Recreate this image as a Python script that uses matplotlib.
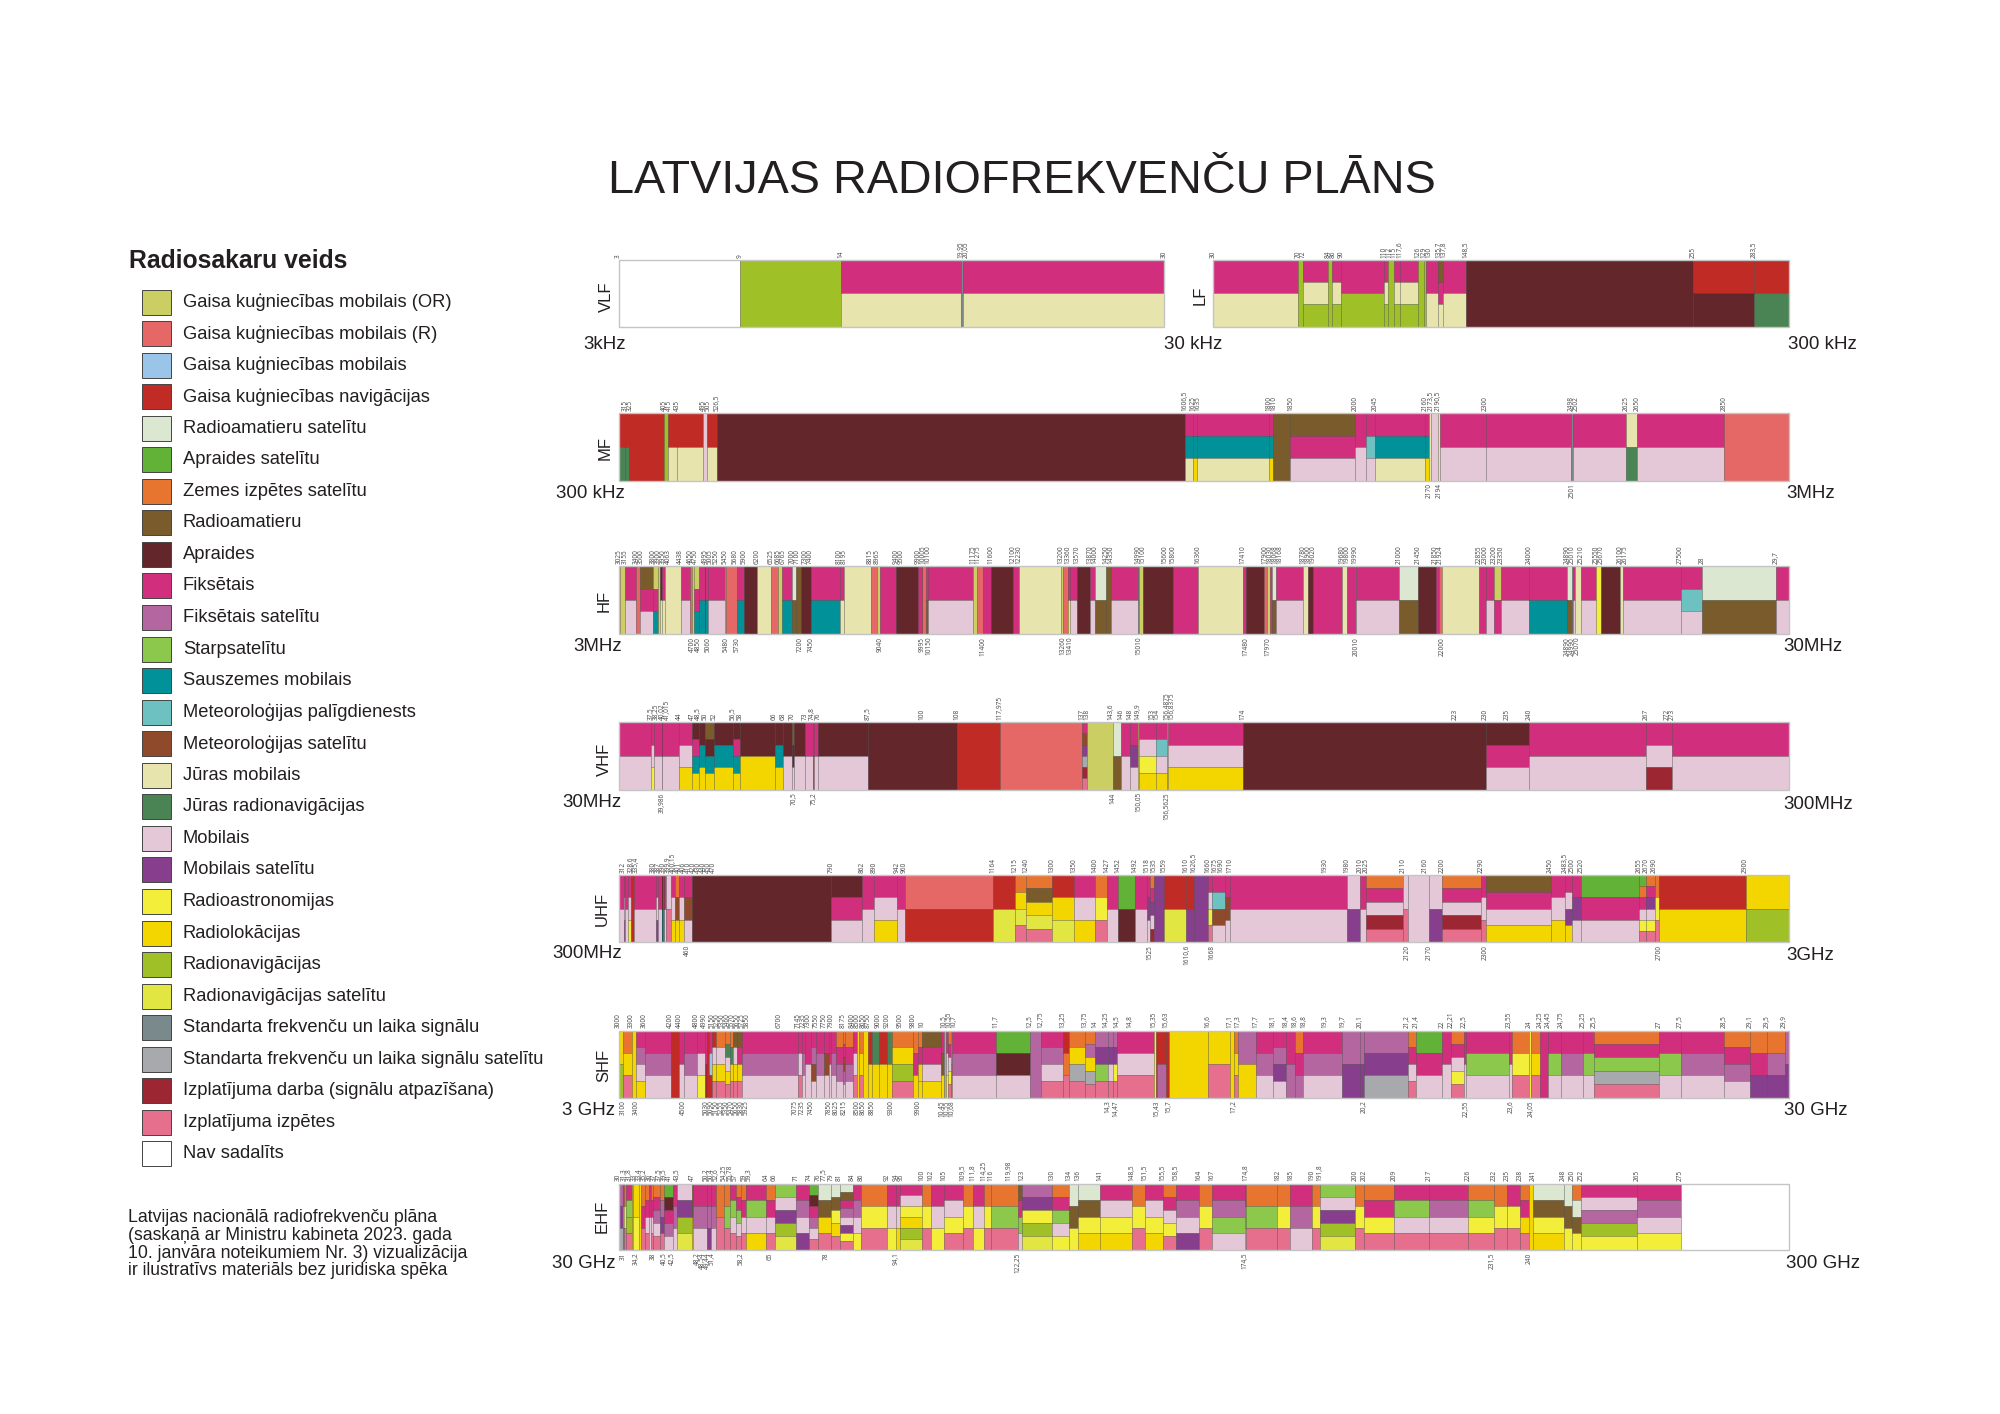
"""Latvian radio frequency allocation chart."""
import matplotlib
matplotlib.use('Agg')
import matplotlib.pyplot as plt
from matplotlib.patches import Rectangle

plt.rcParams['font.family'] = ['Liberation Sans', 'DejaVu Sans']

W, H = 2000, 1414

TITLE = "LATVIJAS RADIOFREKVENČU PLĀNS"
LEGEND_TITLE = "Radiosakaru veids"
NOTE_LINES = [
    "Latvijas nacionālā radiofrekvenču plāna",
    "(saskaņā ar Ministru kabineta 2023. gada",
    "10. janvāra noteikumiem Nr. 3) vizualizācija",
    "ir ilustratīvs materiāls bez juridiska spēka",
]

# service code -> (legend text, colour), legend order
SERVICE_CODES = ["OR", "AR", "AB", "AN", "RS", "BS", "ES", "AT", "BC", "FX", "FS", "IS", "LM", "MA",
                 "MS", "MM", "MN", "MO", "MV", "RA", "RL", "RN", "RV", "ST", "SV", "IZ", "EE", "NA"]
SERVICE_NAMES = [
    "Gaisa kuģniecības mobilais (OR)", "Gaisa kuģniecības mobilais (R)", "Gaisa kuģniecības mobilais",
    "Gaisa kuģniecības navigācijas", "Radioamatieru satelītu", "Apraides satelītu", "Zemes izpētes satelītu",
    "Radioamatieru", "Apraides", "Fiksētais", "Fiksētais satelītu", "Starpsatelītu", "Sauszemes mobilais",
    "Meteoroloģijas palīgdienests", "Meteoroloģijas satelītu", "Jūras mobilais", "Jūras radionavigācijas",
    "Mobilais", "Mobilais satelītu", "Radioastronomijas", "Radiolokācijas", "Radionavigācijas",
    "Radionavigācijas satelītu", "Standarta frekvenču un laika signālu",
    "Standarta frekvenču un laika signālu satelītu", "Izplatījuma darba (signālu atpazīšana)",
    "Izplatījuma izpētes", "Nav sadalīts",
]
SERVICE_COLORS = ["#CBCF63", "#E56866", "#9AC5E8", "#C02B25", "#DCE7D2", "#62B238", "#E8752F", "#7A5B2C",
                  "#62262B", "#D22E7E", "#B3669F", "#8CC84B", "#009199", "#6EC1C1", "#8F4A2B", "#E8E4AE",
                  "#4A8454", "#E4C8D8", "#873F8D", "#F2EE3A", "#F3D600", "#A0C027", "#E2E643", "#7A8A8C",
                  "#A8A9AD", "#9C2632", "#E56F8D", "#FFFFFF"]

# columns: (start frequency, services from top to bottom)
VLF_COLS = [(3, "NA"), (9, "RN"), (14, "FX MM"), (19.95, "ST"), (20.05, "FX MM")]
VLF_TOP = ["3", "9", "14", "19,95", "20,05", "30"]
VLF_BOT = []

LF_COLS = [(30, "FX MM"), (70, "RN"), (72, "FX MM RN"), (84, "RN"), (86, "FX MM RN"), (90, "FX RN"),
           (110, "FX MM RN"), (112, "RN"), (115, "FX MM RN"), (117.6, "FX MM RN"), (126, "RN"),
           (129, "RN"), (130, "FX MM"), (135.7, "AT FX MM"), (137.8, "FX MM"), (148.5, "BC"),
           (255, "AN BC"), (283.5, "AN MN")]
LF_TOP = ["30", "70", "72", "84", "86", "90", "110", "112", "115", "117,6", "126", "129", "130",
          "135,7", "137,8", "148,5", "255", "283,5"]
LF_BOT = []

MF_COLS = [(300, "AN MN"), (315, "AN MN"), (325, "AN"), (405, "RN"), (415, "AN MM"), (435, "AN MM"),
           (495, "MO"), (505, "AN MM"), (526.5, "BC"), (1606.5, "FX LM MM"), (1625, "FX LM RL"),
           (1635, "FX LM MM"), (1800, "FX LM RL"), (1810, "AT"), (1850, "AT FX MO"), (2000, "FX MO"),
           (2025, "FX MA MO"), (2045, "FX LM MM"), (2160, "FX LM RL"), (2170, "MM"), (2173.5, "MO"),
           (2190.5, "MM"), (2194, "FX MO"), (2300, "FX MO"), (2498, "ST"), (2502, "FX MO"),
           (2625, "MM MN"), (2650, "FX MO"), (2850, "AR")]
MF_TOP = ["315", "325", "405", "415", "435", "495", "505", "526,5", "1606,5", "1625", "1635", "1800",
          "1810", "1850", "2000", "2045", "2160", "2173,5", "2190,5", "2300", "2498", "2502", "2625",
          "2650", "2850"]
MF_BOT = ["2170", "2194", "2501"]

HF_COLS = [(3000, "AR"), (3025, "OR"), (3155, "FX MO"), (3400, "AR"), (3500, "AT FX MO"), (3800, "OR FX LM"),
           (3900, "OR"), (3950, "BC MM"), (4000, "FX MM"), (4063, "MM"), (4438, "FX MO"), (4650, "AR"),
           (4700, "OR"), (4750, "OR FX LM"), (4850, "FX LM"), (4995, "ST"), (5005, "FX LM"), (5060, "FX MO"),
           (5450, "OR"), (5480, "AR"), (5730, "FX LM"), (5900, "BC"), (6200, "MM"), (6525, "AR"), (6685, "OR"),
           (6765, "FX LM"), (7000, "RS AT"), (7100, "AT"), (7200, "BC"), (7450, "FX LM"), (8100, "FX MM"),
           (8195, "MM"), (8815, "AR"), (8965, "OR"), (9040, "FX"), (9400, "BC"), (9900, "FX"), (9995, "ST"),
           (10005, "AR"), (10100, "FX AT"), (10150, "FX MO"), (11175, "OR"), (11275, "AR"), (11400, "FX"),
           (11600, "BC"), (12100, "FX"), (12230, "MM"), (13200, "OR"), (13260, "AR"), (13360, "FX RA"),
           (13410, "FX MO"), (13570, "BC"), (13870, "FX MO"), (14000, "RS AT"), (14250, "AT"), (14350, "FX MO"),
           (14990, "ST"), (15010, "OR"), (15100, "BC"), (15800, "FX"), (16360, "MM"), (17410, "FX"),
           (17480, "BC"), (17900, "AR"), (17970, "OR"), (18030, "FX"), (18068, "RS AT"), (18168, "FX MO"),
           (18780, "MM"), (18900, "BC"), (19020, "FX"), (19680, "MM"), (19800, "FX"), (19990, "ST"),
           (20010, "FX MO"), (21000, "RS AT"), (21450, "BC"), (21850, "FX"), (21924, "AR"), (22000, "MM"),
           (22855, "FX"), (23000, "FX MO"), (23200, "OR FX"), (23350, "FX MO"), (24000, "FX LM"),
           (24890, "RS AT"), (24990, "ST"), (25010, "FX MO"), (25070, "MM"), (25210, "FX MO"), (25550, "RA"),
           (25670, "BC"), (26100, "MM"), (26175, "FX MO"), (27500, "FX MA MO"), (28000, "RS AT"),
           (29700, "FX MO")]
HF_TOP = ["3025", "3155", "3400", "3500", "3800", "3900", "3950", "4063", "4438", "4650", "4750", "4995",
          "5005", "5250", "5450", "5680", "5900", "6200", "6525", "6685", "6765", "7000", "7100", "7300",
          "7400", "8100", "8195", "8815", "8965", "9400", "9500", "9900", "10005", "10100", "11175", "11275",
          "11600", "12100", "12230", "13200", "13360", "13570", "13870", "14000", "14250", "14350", "14990",
          "15100", "15600", "15800", "16360", "17410", "17900", "18030", "18068", "18168", "18780", "18900",
          "19020", "19680", "19800", "19990", "21000", "21450", "21850", "21924", "22855", "23000", "23200",
          "23350", "24000", "24890", "25010", "25210", "25550", "25670", "26100", "26175", "27500", "28",
          "29,7"]
HF_BOT = ["4700", "4850", "5060", "5480", "5730", "7200", "7450", "9040", "9995", "10150", "11400", "13260",
          "13410", "15010", "17480", "17970", "20010", "22000", "24890", "24990", "25070"]

VHF_COLS = [(30, "FX MO"), (37.5, "FX MO RA"), (38.25, "FX MO"), (39.986, "FX MO SV"), (40.02, "FX MO"),
            (44, "FX MO RL"), (47, "BC FX LM RL"), (48.5, "BC LM RL"), (50, "AT BC LM RL"), (52, "BC LM RL"),
            (56.5, "BC FX LM RL"), (58, "BC RL"), (66, "BC LM RL"), (68, "BC MO"), (70, "AT BC MO"),
            (70.5, "BC MO"), (73, "FX MO"), (74.8, "FX AN"), (75.2, "FX MO"), (76, "BC MO"), (87.5, "BC"),
            (108, "AN"), (117.975, "AR"), (137, "FX MS MV SV IZ EE"), (138, "OR"), (144, "RS AT"),
            (146, "FX MO"), (148, "FX MV MO"), (149.9, "RV"), (150.05, "FX MO RA RL"), (154, "FX MA MO RL"),
            (156.4875, "FX MO RL"), (156.5625, "MM"), (156.8375, "FX MO RL"), (174, "BC"), (230, "BC FX MO"),
            (240, "FX MO"), (267, "FX MO IZ"), (273, "FX MO")]
VHF_TOP = ["37,5", "38,25", "40,02", "41,015", "44", "47", "48,5", "50", "52", "56,5", "58", "66", "68", "70",
           "73", "74,8", "76", "87,5", "100", "108", "117,975", "137", "138", "143,6", "146", "148", "149,9",
           "153", "154", "156,4875", "156,8375", "174", "223", "230", "235", "240", "267", "272", "273"]
VHF_BOT = ["39,986", "70,5", "75,2", "144", "150,05", "156,5625"]

UHF_COLS = [(300, "FX MO"), (312, "FX MO MV"), (315, "FX MO"), (322, "FX MO RA"), (328.6, "AN"), (335.4, "FX MO"),
            (387, "FX MO MV"), (390, "FX MO"), (399.9, "RV"), (400.05, "ST"), (400.15, "MA MV"), (401, "MS LM"),
            (406, "RL"), (406.1, "FX MO"), (410, "MO EE"), (420, "FX MO RL"), (430, "ES MS RL"),
            (440, "FX MO RL"), (450, "FX MS MO"), (470, "BC"), (790, "BC FX MO"), (862, "FX MO"),
            (890, "FX MO RL"), (942, "FX MO"), (960, "AR AN"), (1164, "AN RV"), (1215, "ES RL RV EE"),
            (1240, "ES AT RL RV EE"), (1300, "AN RL RV"), (1350, "FX MO RL"), (1400, "ES RA EE"),
            (1427, "FX MO"), (1452, "BS BC"), (1492, "FX MO"), (1518, "FX MV MO"), (1525, "ES FX MV MO IZ"),
            (1535, "MV"), (1559, "AN RV"), (1610, "AN MV"), (1626.5, "MV"), (1660, "FX MO RA EE"),
            (1668, "FX MA MS MO"), (1700, "FX MS MO"), (1710, "FX MO"), (1980, "MO MV"), (2010, "FX MO"),
            (2025, "ES FX MO IZ EE"), (2110, "MO EE"), (2120, "MO"), (2170, "MO MV"), (2200, "ES FX MO IZ EE"),
            (2290, "FX MO EE"), (2300, "AT FX MO RL"), (2450, "FX MO RL"), (2483.5, "FX MO MV RL"),
            (2500, "FX MV MO"), (2520, "BS FX MO"), (2655, "BS ES FX MO RA EE"), (2670, "ES FX MV MO RA EE"),
            (2690, "ES RA EE"), (2700, "AN RL"), (2900, "RL RN")]
UHF_TOP = ["312", "328,6", "335,4", "380", "387", "390", "399,9", "400,15", "401", "406", "410", "420", "430",
           "440", "450", "470", "790", "862", "890", "942", "960", "1164", "1215", "1240", "1300", "1350", "1400",
           "1427", "1452", "1492", "1518", "1535", "1559", "1610", "1626,5", "1660", "1675", "1690", "1710",
           "1930", "1980", "2010", "2025", "2110", "2160", "2200", "2290", "2450", "2483,5", "2500", "2520",
           "2655", "2670", "2690", "2900"]
UHF_BOT = ["460", "1525", "1610,6", "1668", "2120", "2170", "2300", "2700"]

SHF_COLS = [(3, "RL RN"), (3.1, "ES RL EE"), (3.3, "RL"), (3.4, "FX FS MO RL"), (3.6, "FX FS MO"), (4.2, "AN"),
            (4.4, "FX MO"), (4.5, "FX FS MO"), (4.8, "FX MO RA"), (4.99, "FX IZ"), (5.03, "AN"),
            (5.09, "FX AB AN"), (5.15, "AN MO RL EE"), (5.25, "ES MO RL EE"), (5.46, "ES MN MO RL EE"),
            (5.57, "ES MN RL EE"), (5.65, "AT MO RL EE"), (5.725, "AT FX RL EE"), (5.85, "FX FS MO"),
            (7.145, "FX MO EE"), (7.235, "FX FS MO"), (7.3, "FX MO"), (7.45, "FX FS MS MO"), (7.55, "FX FS MO"),
            (7.75, "FX MS MO"), (7.85, "FX MO"), (7.9, "FX FS MO"), (8.025, "ES FX FS MO"),
            (8.175, "ES FX MS FS MO"), (8.215, "ES FX FS MO"), (8.4, "FX MO EE"), (8.5, "RL"), (8.55, "ES RL EE"),
            (8.65, "RL"), (8.75, "AN RL"), (8.85, "MN RL"), (9, "AN RL"), (9.2, "MN RL"), (9.3, "ES RL RN EE"),
            (9.8, "ES FX RL"), (9.9, "ES FX RL RL"), (10, "AT FX MO RL"), (10.45, "FX AT RL"), (10.5, "SV"),
            (10.55, "FX MO RA"), (10.6, "ES FX MO RA EE"), (10.68, "SV ES"), (10.7, "FX FS MO"),
            (11.7, "BS BC MO"), (12.5, "FS"), (12.75, "FX FS MO EE"), (13.25, "AN ES EE"), (13.4, "ES RL SV EE"),
            (13.75, "ES FS RL SV EE"), (14, "FS MV IS EE"), (14.3, "FS MV MO EE"), (14.4, "FS MV RA EE"),
            (14.5, "FX MO EE"), (15.35, "RA"), (15.4, "AN"), (15.43, "AN FS"), (15.63, "AN"), (15.7, "RL"),
            (16.6, "RL EE"), (17.1, "RL"), (17.2, "ES RL EE"), (17.3, "FS RL"), (17.7, "FX FS MO"),
            (18.1, "FX FS MV MO"), (18.4, "FX FS"), (18.6, "ES FX FS"), (18.8, "FX FS MO"), (19.7, "FS MV"),
            (20.1, "FS MV"), (20.2, "FS MV SV"), (21.2, "ES FX MO EE"), (21.4, "BS FX MO"), (22, "FX MO"),
            (22.21, "ES FX MO RA EE"), (22.5, "FX MO"), (22.55, "FX IS MO"), (23.55, "FX MO"), (23.6, "ES RA EE"),
            (24, "RA"), (24.05, "ES RL EE"), (24.25, "FX"), (24.45, "FX IS MO"), (24.75, "FX FS MO"),
            (25.25, "FX IS MO"), (25.5, "ES FX IS SV EE"), (27, "FX IS MO"), (27.5, "FX FS MO"),
            (28.5, "ES FX FS MO"), (29.1, "ES FX MV"), (29.5, "ES FS MV"), (29.9, "FS MV")]
SHF_TOP = ["3000", "3300", "3600", "4200", "4400", "4800", "4990", "5150", "5250", "5350", "5460", "5570", "5650",
           "5725", "5850", "6700", "7145", "7235", "7300", "7550", "7750", "7900", "8175", "8400", "8500", "8650",
           "8750", "9000", "9200", "9500", "9800", "10", "10,5", "10,55", "10,7", "11,7", "12,5", "12,75", "13,25",
           "13,75", "14", "14,25", "14,5", "14,8", "15,35", "15,63", "16,6", "17,1", "17,3", "17,7", "18,1", "18,4",
           "18,6", "18,8", "19,3", "19,7", "20,1", "21,2", "21,4", "22", "22,21", "22,5", "23,55", "24", "24,25",
           "24,45", "24,75", "25,25", "25,5", "27", "27,5", "28,5", "29,1", "29,5", "29,9"]
SHF_BOT = ["3100", "3400", "4500", "5030", "5090", "5150", "5255", "5350", "5470", "5650", "5830", "5925", "7075",
           "7235", "7450", "7850", "8025", "8215", "8500", "8650", "8850", "9300", "9900", "10,45", "10,55", "10,68",
           "14,3", "14,47", "15,43", "15,7", "17,2", "20,2", "22,55", "23,6", "24,05"]

EHF_COLS = [(30, "FS MV SV"), (31, "FX MO ST"), (31.3, "ES RA EE"), (31.8, "FX IS RN EE"), (33, "RL"),
            (33.4, "RL RA"), (34.7, "RL"), (35.2, "ES FX EE"), (36, "ES FX MO EE"), (37, "FX MO"),
            (37.5, "ES FX MO EE"), (38, "ES FX FS MO EE"), (39.5, "ES FS MV EE"), (40.5, "BS BC FX FS MO"),
            (42.5, "FX FS MO"), (43.5, "MO MV RN RV"), (47, "AT RL"), (47.2, "FX FS MO"), (50.4, "FX FS MV"),
            (51.4, "FX FS MO"), (52.6, "ES EE"), (54.25, "ES IS EE"), (55.78, "FX IS MO EE"),
            (57, "ES FX IS MO EE"), (58.2, "ES FX MO EE"), (59.3, "FX IS MO RL"), (64, "ES FX MO EE"),
            (66, "IS MO MV RN RV"), (71, "FX FS MO MV"), (74, "BS BC FX FS MO EE"), (76, "RS AT RL EE"),
            (79, "RS AT RA RL EE"), (81, "RS AT FX FS MO MV RA EE"), (84, "FX FS MO RA"), (86, "ES RA EE"),
            (92, "FX MO RA"), (94, "FX MO RL"), (95, "FX MO RA RL RN RV"), (100, "ES RA EE"), (102, "FX MO RA"),
            (105, "FX MO RA EE"), (109.5, "ES RA EE"), (111.8, "FX MO RA"), (114.25, "ES RA EE"),
            (116, "ES IS EE"), (122.25, "AT FX IS MO"), (123, "FS MV RA RN RV"), (130, "ES FX IS MO RA"),
            (134, "RS AT RA"), (136, "RS AT RA RL"), (141, "FX MO RA RL"), (148.5, "ES RA EE"),
            (151.5, "FX MO RA RL"), (155.5, "ES FX MO RA EE"), (158.5, "FX FS MO MV"), (164, "ES RA EE"),
            (167, "FX FS IS MO"), (174.5, "FX IS MO"), (174.8, "ES IS EE"), (182, "ES RA EE"),
            (185, "FX FS MO"), (190, "ES RA EE"), (191.8, "IS MO MV RN RV"), (200, "ES RA EE"),
            (202, "ES FX RA EE"), (209, "FX IS MO EE"), (217, "FX FS MO EE"), (226, "ES IS RA EE"),
            (232, "ES RA EE"), (235, "FX RA EE"), (238, "ES FX RL EE"), (240, "RL"), (241, "RS AT RA RL"),
            (248, "RS AT RA"), (250, "ES RS AT RA"), (252, "FX MO FS RN RA"), (265, "FX FS MO RA"), (275, "NA")]
EHF_TOP = ["30", "31,3", "31,8", "33", "33,4", "35,2", "36", "37", "37,5", "39,5", "41", "43,5", "47", "50,2",
           "50,4", "52,6", "54,25", "55,78", "57", "59", "59,3", "64", "66", "71", "74", "76", "77,5", "79", "81",
           "84", "86", "92", "94", "95", "100", "102", "105", "109,5", "111,8", "114,25", "116", "119,98", "123",
           "130", "134", "136", "141", "148,5", "151,5", "155,5", "158,5", "164", "167", "174,8", "182", "185",
           "190", "191,8", "200", "202", "209", "217", "226", "232", "235", "238", "241", "248", "250", "252",
           "265", "275"]
EHF_BOT = ["31", "34,2", "38", "40,5", "42,5", "48,2", "48,54", "49,44", "51,4", "58,2", "65", "78", "94,1",
           "122,25", "174,5", "231,5", "240"]

# name, lo, hi, columns, top labels, bottom labels, x0, x1, y0, y1 (px)
BANDS = [
    ("VLF", 3, 30, VLF_COLS, VLF_TOP, VLF_BOT, 618.5, 1164, 260, 326.5),
    ("LF", 30, 300, LF_COLS, LF_TOP, LF_BOT, 1213, 1789, 260, 326.5),
    ("MF", 300, 3000, MF_COLS, MF_TOP, MF_BOT, 618.5, 1789, 413, 480.5),
    ("HF", 3000, 30000, HF_COLS, HF_TOP, HF_BOT, 618.5, 1789, 566, 634),
    ("VHF", 30, 300, VHF_COLS, VHF_TOP, VHF_BOT, 618.5, 1789, 722, 789.5),
    ("UHF", 300, 3000, UHF_COLS, UHF_TOP, UHF_BOT, 618.5, 1789, 875, 942),
    ("SHF", 3, 30, SHF_COLS, SHF_TOP, SHF_BOT, 618.5, 1789, 1030.5, 1097.5),
    ("EHF", 30, 300, EHF_COLS, EHF_TOP, EHF_BOT, 618.5, 1789, 1183.5, 1249.5),
]

BAND_LABEL_POS = [(606, 297), (1200, 295), (605, 448), (604, 601), (604, 759), (602, 909), (604, 1065), (602, 1216)]
RANGE_LABELS = [("3kHz", 583, 344.5), ("30 kHz", 1164, 344.5), ("300 kHz", 1788, 344.5),
                ("300 kHz", 556, 493), ("3MHz", 1786, 493),
                ("3MHz", 573, 646.5), ("30MHz", 1783, 646.5),
                ("30MHz", 562, 802.5), ("300MHz", 1783, 804.5),
                ("300MHz", 552, 953.5), ("3GHz", 1786, 955.5),
                ("3 GHz", 562, 1110.5), ("30 GHz", 1784, 1110.5),
                ("30 GHz", 552, 1263), ("300 GHz", 1786, 1263)]

LABEL_GAP_PX = 5
COLOR_BY_CODE = dict(zip(SERVICE_CODES, SERVICE_COLORS))


def to_band(text, lo, hi):
    # labels mix units inside a band (28 next to 27500)
    v = float(text.replace(",", "."))
    while v < lo:
        v *= 1000
    while v > hi:
        v /= 1000
    return v


def spread(labels, lo, hi, gap):
    # push neighbouring labels apart so they stay readable
    out = []
    last = None
    for lab in labels:
        v = to_band(lab, lo, hi)
        if last is not None and v < last + gap:
            v = last + gap
        out.append((v, lab))
        last = v
    return out


def draw_band(fig, name, lo, hi, cols, top, bot, x0, x1, y0, y1):
    ax = fig.add_axes([x0 / W, 1 - y1 / H, (x1 - x0) / W, (y1 - y0) / H])
    ax.set_xlim(lo, hi)
    ax.set_ylim(0, 1)
    ax.axis('off')
    for i, (start, codes) in enumerate(cols):
        end = cols[i + 1][0] if i + 1 < len(cols) else hi
        parts = codes.split()
        h = 1 / len(parts)
        for k, code in enumerate(parts):
            ax.bar(start, h, width=end - start, bottom=1 - (k + 1) * h, align='edge',
                   color=COLOR_BY_CODE[code], edgecolor=(0, 0, 0, 0.28), linewidth=0.55)
    ax.add_patch(Rectangle((lo, 0), hi - lo, 1, fill=False, edgecolor="#c4c4c4", linewidth=1.0, clip_on=False))

    gap = LABEL_GAP_PX * (hi - lo) / (x1 - x0)
    for v, lab in spread(top, lo, hi, gap):
        ax.annotate(lab, (v, 1), xytext=(0, 1.5), textcoords='offset points', rotation=90,
                    ha='center', va='bottom', fontsize=4.7, color="#444444", family='Open Sans')
    for v, lab in spread(bot, lo, hi, gap):
        ax.annotate(lab, (v, 0), xytext=(0, -2), textcoords='offset points', rotation=90,
                    ha='center', va='top', fontsize=4.7, color="#444444", family='Open Sans')


fig = plt.figure(figsize=(W / 100, H / 100), dpi=100)

page = fig.add_axes([0, 0, 1, 1])
page.set_xlim(0, W)
page.set_ylim(H, 0)
page.axis('off')

page.text(608, 181, TITLE, fontsize=33.7, va='center', ha='left', color="#231F20")

page.text(129, 260.5, LEGEND_TITLE, fontsize=17.8, fontweight='bold', va='center', color="#231F20")
for i, (code, label) in enumerate(zip(SERVICE_CODES, SERVICE_NAMES)):
    y = 302 + i * 31.55
    page.add_patch(Rectangle((141.5, y - 12.5), 29.5, 25, facecolor=COLOR_BY_CODE[code],
                             edgecolor="#444444", linewidth=0.7))
    page.text(183, y, label, fontsize=13.2, va='center', color="#231F20")

for i, line in enumerate(NOTE_LINES):
    page.text(128, 1218 + i * 17.6, line, fontsize=12.7, va='center', color="#231F20")

for (name, lo, hi, cols, top, bot, x0, x1, y0, y1), (lx, ly) in zip(BANDS, BAND_LABEL_POS):
    draw_band(fig, name, lo, hi, cols, top, bot, x0, x1, y0, y1)
    page.text(lx, ly, name, rotation=90, fontsize=12, ha='center', va='center', color="#231F20")

for text, lx, ly in RANGE_LABELS:
    page.text(lx, ly, text, fontsize=13.5, ha='left', va='center', color="#231F20")

fig.savefig("out.png", dpi=100)
